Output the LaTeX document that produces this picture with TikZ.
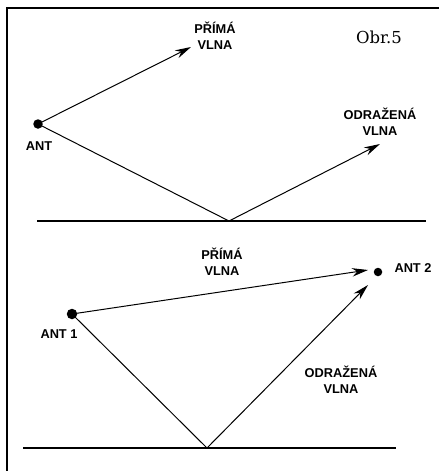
\documentclass[tikz,border=0pt]{standalone}
\usepackage{fontspec}
\setmainfont{Liberation Sans}
\newfontfamily\serifobr{DejaVu Serif}
\usetikzlibrary{arrows.meta}
\begin{document}
\begin{tikzpicture}[x=1pt,y=-1pt,
  wave/.style={line width=1pt,-{Stealth[length=16pt,width=8.5pt]}},
  plain/.style={line width=1pt},
  ground/.style={line width=1.1pt},
  frame/.style={line width=2.5pt},
  lbl/.style={font=\fontsize{12.8}{15.5}\selectfont\bfseries,align=center,inner sep=0pt},
  dot/.style={circle,fill=black,inner sep=0pt,minimum size=#1}]
\useasboundingbox (0,0) rectangle (439,471);
% frame
\coordinate (ftl) at (7,8);
\coordinate (ftr) at (439,8);
\coordinate (fbl) at (7,471);
\draw[frame] (fbl) -- (ftl) -- (ftr);
% title
\node[font=\serifobr\fontsize{16.5}{18}\selectfont,inner sep=0pt] (obr) at (379,37) {Obr.5};
% ---- upper scene
\node[dot=9.5pt] (ant) at (38,124) {};
\node[lbl] (antl) at (39,146) {ANT};
\coordinate (tip1) at (191,47);
\coordinate (refl1) at (229,221);
\coordinate (tip2) at (380,144);
\coordinate (g1a) at (37,221);
\coordinate (g1b) at (426,221);
\draw[ground] (g1a) -- (g1b);
\draw[wave] (ant.center) -- (tip1);
\draw[plain] (ant.center) -- (refl1);
\draw[wave] (refl1) -- (tip2);
\node[lbl] (prima1) at (215,36) {PŘÍMÁ\\VLNA};
\node[lbl] (odr1) at (380,122) {ODRAŽENÁ\\VLNA};
% ---- lower scene
\node[dot=10.5pt] (ant1) at (72,314) {};
\node[lbl] (ant1l) at (59,334) {ANT 1};
\node[dot=8.5pt] (ant2) at (378,272) {};
\node[lbl] (ant2l) at (413,268) {ANT 2};
\coordinate (tip3) at (368,270);
\coordinate (refl2) at (207,448);
\coordinate (tip4) at (368,285);
\coordinate (g2a) at (23,448);
\coordinate (g2b) at (396,448);
\draw[ground] (g2a) -- (g2b);
\draw[wave] (ant1.center) -- (tip3);
\draw[plain] (ant1.center) -- (refl2);
\draw[wave] (refl2) -- (tip4);
\node[lbl] (prima2) at (222,262) {PŘÍMÁ\\VLNA};
\node[lbl] (odr2) at (341,380) {ODRAŽENÁ\\VLNA};
\end{tikzpicture}
\end{document}
